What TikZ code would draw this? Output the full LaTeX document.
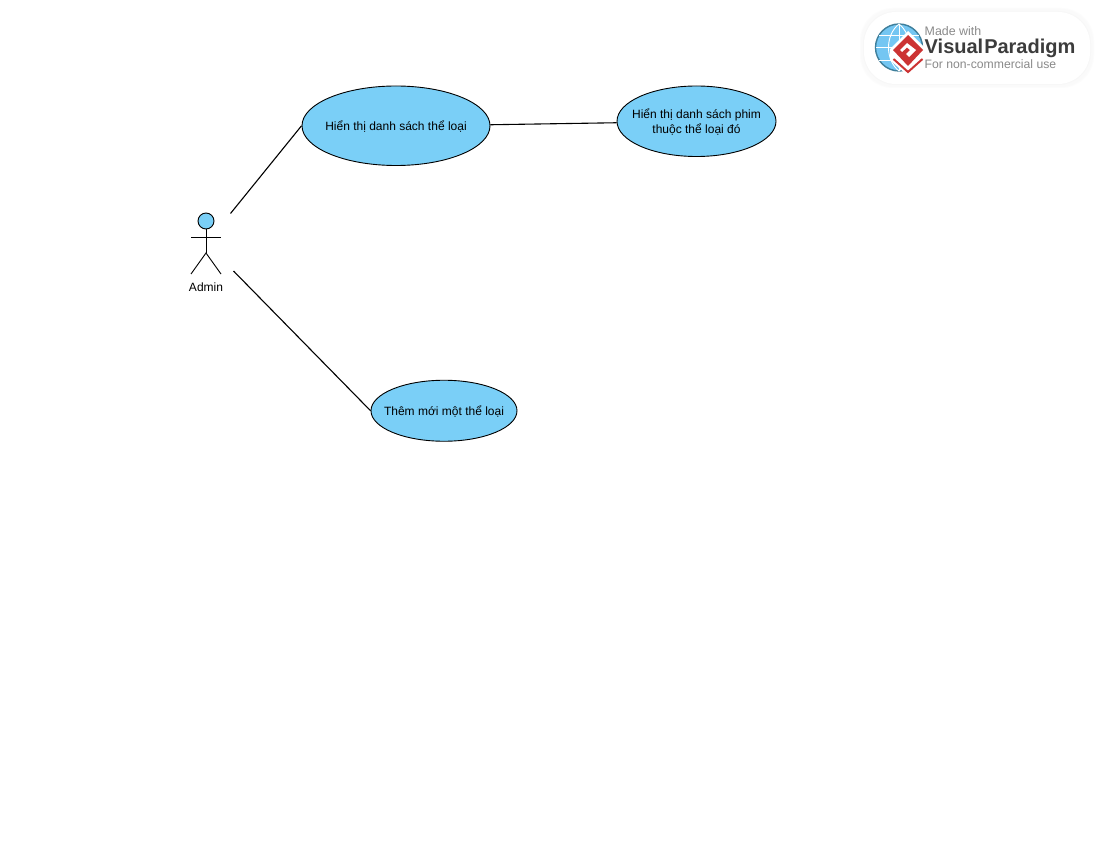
\documentclass[tikz,border=0pt]{standalone}
\usepackage{fontspec}
\setmainfont{Liberation Sans}
\usetikzlibrary{calc,shapes.geometric}
\definecolor{usecaseblue}{HTML}{7ACFF7}
\definecolor{globeblue}{HTML}{74C6F2}
\definecolor{globeedge}{HTML}{3F7F9B}
\definecolor{logored}{HTML}{CC3333}
\definecolor{logogray}{HTML}{8A8A8A}
\definecolor{logodark}{HTML}{3C3C3C}
\tikzset{
	usecase/.style={ellipse, draw=black, line width=0.9pt, fill=usecaseblue, inner xsep=-14pt, inner ysep=0pt, align=center, font=\fontsize{12}{15}\selectfont, text=black},
	assoc/.style={line width=1.1pt, color=black},
	actorline/.style={line width=0.9pt, color=black},
	logotext/.style={inner sep=0pt, anchor=west}
}

\begin{document}
\begin{tikzpicture}[x=1pt, y=-1pt]
		%%%%% START %%%%%
		\useasboundingbox (0, 0) rectangle (1100, 850);
		\fill[white] (0, 0) rectangle (1100, 850);
		
		% watermark
		\foreach \grow/\shade in {4/1, 3/2, 2/2, 1/3} {
			\fill[black!\shade, rounded corners=33] ({864-\grow}, {12-\grow}) rectangle ({1090+\grow}, {84+\grow});
		}
		\fill[white, rounded corners=32] (864, 12) rectangle (1090, 84);
		
		\draw[globeedge, line width=1.4pt, fill=globeblue] (899, 47.5) circle (23.5);
		\draw[white, line width=0.9pt] (899, 24) -- (899, 71);
		\draw[white, line width=0.9pt] (876, 47.5) -- (922, 47.5);
		\draw[white, line width=0.9pt] (879, 35) -- (919, 35);
		\draw[white, line width=0.9pt] (879, 60) -- (919, 60);
		\draw[white, line width=0.9pt] (899, 24) .. controls (885, 35) and (885, 60) .. (899, 71);
		\draw[white, line width=0.9pt] (899, 24) .. controls (913, 35) and (913, 60) .. (899, 71);
		
		\fill[white] (908, 31) -- (926, 49) -- (926, 60) -- (908, 76) -- (890, 60) -- (890, 49) -- cycle;
		\draw[logored, line width=2pt] (893.5, 59) -- (908, 72) -- (922.5, 59);
		\fill[logored] (908, 35) -- (923, 50) -- (908, 66) -- (893, 50) -- cycle;
		\fill[white] (907, 43) -- (916, 50) -- (909, 57) -- (906, 54) -- (910, 50) -- (907, 47.5) -- (902, 52) -- (900, 50) -- cycle;
		
		\node[logotext, text=logogray, font=\fontsize{12.4}{13}\selectfont] (madewith) at (924.5, 31) {Made with};
		\node[logotext, text=logodark, font=\fontsize{20}{20}\selectfont\bfseries] (vpname) at (924.5, 48.5) {Visual\kern1pt Paradigm};
		\node[logotext, text=logogray, font=\fontsize{12.2}{13}\selectfont] (noncommercial) at (924.5, 64.5) {For non-commercial use};
		
		% actor
		\draw[actorline, fill=usecaseblue] (206, 221) circle (8);
		\draw[actorline] (206, 229) -- (206, 253);
		\draw[actorline] (191, 237) -- (221, 237);
		\draw[actorline] (191, 274) -- (206, 253) -- (221, 274);
		\node[font=\fontsize{12}{14}\selectfont, inner sep=0pt] (admin) at (206, 287) {Admin};
		\coordinate (adminTop) at (230.5, 213.5);
		\coordinate (adminBottom) at (233.5, 271);
		
		% use cases
		\node[usecase, minimum width=188, minimum height=79.5] (listGenre) at (396, 125.75) {\raisebox{-4.5pt}[0pt][0pt]{Hiển thị danh sách thể loại}};
		\node[usecase, minimum width=159, minimum height=70.5] (listMovie) at (696.5, 121.25) {\rule{0pt}{12pt}Hiển thị danh sách phim\\thuộc thể loại đó};
		\node[usecase, minimum width=146, minimum height=61] (addGenre) at (444, 410.75) {\raisebox{-4.5pt}[0pt][0pt]{Thêm mới một thể loại}};
		
		\draw[assoc] (adminTop) -- (listGenre.west);
		\draw[assoc] (adminBottom) -- (addGenre.west);
		\draw[assoc] ($(listGenre.east)+(0, -1)$) -- ($(listMovie.west)+(0, 1.5)$);
		%%%%% END %%%%%
	\end{tikzpicture}
\end{document}
